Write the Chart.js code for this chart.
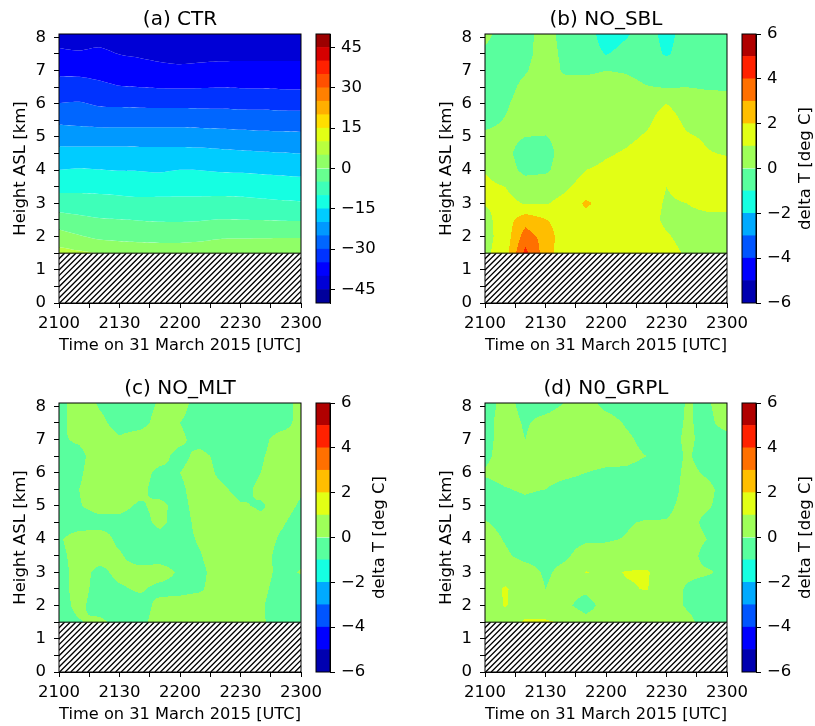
<!DOCTYPE html>
<html>
<head>
<meta charset="utf-8">
<script src="https://cdn.jsdelivr.net/npm/chart.js@4.4.1/dist/chart.umd.min.js"></script>
<style>
    html, body { margin: 0; padding: 0; background: #fff; overflow: hidden; }
    body { width: 815px; height: 726px; position: relative; }
    canvas { position: absolute; }
</style>
</head>
<body>
<script>
// ---- data ------------------------------------------------------------

// minutes after 2100 UTC
const times = [ 0, 10, 20, 30, 40, 50, 60, 70, 80, 90, 100, 110, 120 ];
const xTickValues = [ 0, 15, 30, 45, 60, 75, 90, 105, 120 ];
const xTickLabels = { 0: '2100', 30: '2130', 60: '2200', 90: '2230', 120: '2300' };
const yTickValues = [ 0, 0.5, 1, 1.5, 2, 2.5, 3, 3.5, 4, 4.5, 5, 5.5, 6, 6.5, 7, 7.5, 8 ];
const surfaceHeight = 1.5;
const topHeight = 8.1;

// (a) CTR : height [km] of each isotherm over time
const isoM40 = [ 7.68, 7.60, 7.70, 7.48, 7.38, 7.26, 7.19, 7.24, 7.28, 7.29, 7.29, 7.29, 7.29 ];
const isoM35 = [ 6.83, 6.81, 6.70, 6.54, 6.50, 6.47, 6.46, 6.47, 6.49, 6.47, 6.46, 6.44, 6.43 ];
const isoM30 = [ 6.02, 6.06, 5.92, 5.90, 5.88, 5.87, 5.87, 5.86, 5.85, 5.83, 5.82, 5.80, 5.79 ];
const isoM25 = [ 5.37, 5.33, 5.29, 5.29, 5.29, 5.29, 5.29, 5.27, 5.25, 5.22, 5.19, 5.17, 5.15 ];
const isoM20 = [ 4.72, 4.71, 4.71, 4.71, 4.70, 4.70, 4.70, 4.68, 4.64, 4.60, 4.56, 4.53, 4.50 ];
const isoM15 = [ 4.01, 4.06, 4.02, 3.98, 3.97, 3.93, 4.01, 4.00, 3.94, 3.92, 3.88, 3.84, 3.80 ];
const isoM10 = [ 3.31, 3.31, 3.28, 3.24, 3.19, 3.20, 3.21, 3.21, 3.22, 3.20, 3.15, 3.10, 3.06 ];
const isoM5  = [ 2.73, 2.65, 2.56, 2.52, 2.48, 2.45, 2.44, 2.47, 2.52, 2.51, 2.50, 2.48, 2.47 ];
const iso0   = [ 2.21, 2.05, 1.91, 1.86, 1.83, 1.81, 1.81, 1.85, 1.93, 1.94, 1.95, 1.96, 1.96 ];
const iso5   = [ 1.69, 1.58, 1.50, 1.50, 1.50, 1.50, 1.50, 1.50, 1.50, 1.50, 1.50, 1.50, 1.50 ];
const ctrLevels = [ -50, -45, -40, -35, -30, -25, -20, -15, -10, -5, 0, 5, 10, 15, 20, 25, 30, 35, 40, 45, 50 ];
const ctrTicks = [ -45, -30, -15, 0, 15, 30, 45 ];

// (b)-(d) : temperature difference [deg C], rows from top (8.1 km) down to the surface
const rowHeights = [ 8.1, 7.5, 7.0, 6.5, 6.0, 5.5, 5.0, 4.5, 4.0, 3.5, 3.0, 2.5, 2.0, 1.5 ];
const dtLevels = [ -6, -5, -4, -3, -2, -1, 0, 1, 2, 3, 4, 5, 6 ];
const dtTicks = [ -6, -4, -2, 0, 2, 4, 6 ];

const noSbl = [
    [ 0.3, -0.5, -0.3, 0.4, -0.4, -0.5, -1.5, -1.1, -0.6, -1.3, -0.6, -0.5, -0.5 ],
    [ -0.2, -0.6, -0.3, 0.5, -0.3, -0.5, -1.05, -0.7, -0.6, -1.1, -0.6, -0.5, -0.5 ],
    [ -0.5, -0.5, -0.1, 0.6, -0.2, -0.2, 0.0, -0.1, -0.4, -0.4, -0.4, -0.3, -0.3 ],
    [ -0.5, -0.4, 0.3, 0.7, 0.5, 0.5, 0.5, 0.4, 0.05, -0.05, 0.0, -0.1, -0.15 ],
    [ -0.3, -0.15, 0.5, 0.6, 0.6, 0.6, 0.6, 0.6, 0.7, 1.0, 0.6, 0.5, 0.5 ],
    [ -0.3, 0.05, 0.5, 0.5, 0.5, 0.5, 0.5, 0.6, 0.8, 1.4, 0.8, 0.6, 0.5 ],
    [ 0.2, 0.3, 0.0, -0.05, 0.4, 0.5, 0.6, 0.8, 1.1, 1.5, 1.1, 0.9, 0.7 ],
    [ 0.4, 0.3, -0.5, -0.4, 0.5, 0.6, 0.9, 1.1, 1.4, 1.5, 1.4, 1.05, 0.95 ],
    [ 0.95, 0.5, -0.3, -0.2, 0.6, 1.0, 1.2, 1.3, 1.4, 1.4, 1.4, 1.3, 1.3 ],
    [ 1.2, 1.0, 0.6, 0.7, 0.9, 1.3, 1.5, 1.5, 1.5, 1.0, 1.3, 1.5, 2.02 ],
    [ 1.05, 1.2, 0.95, 0.95, 1.2, 2.2, 1.5, 1.5, 1.4, 0.9, 1.0, 1.3, 1.3 ],
    [ 0.7, 1.5, 2.6, 2.05, 1.5, 1.5, 1.5, 1.5, 1.4, 0.8, 0.7, 0.7, 0.7 ],
    [ 0.7, 1.4, 3.5, 2.6, 1.3, 1.5, 1.5, 1.5, 1.5, 1.1, 0.7, 0.7, 0.7 ],
    [ 0.8, 1.5, 4.3, 2.5, 1.3, 1.5, 1.5, 1.5, 1.5, 1.3, 0.9, 0.7, 0.7 ]
];

const noMlt = [
    [ -0.3, 0.5, -0.1, -0.4, -0.4, 0.1, 0.4, -0.5, -0.6, -0.6, -0.5, -0.5, 0.3 ],
    [ -0.3, 0.5, 0.2, -0.3, -0.3, 0.3, 0.0, -0.5, -0.6, -0.6, -0.5, -0.4, 0.3 ],
    [ -0.1, 0.1, 0.4, 0.1, 0.4, 0.5, 0.2, -0.4, -0.6, -0.5, -0.3, 0.4, 0.2 ],
    [ -0.2, -0.2, 0.4, 0.4, 0.4, 0.3, -0.3, 0.3, -0.3, -0.5, -0.1, 0.4, 0.2 ],
    [ -0.4, -0.1, 0.4, 0.3, 0.3, -0.2, 0.0, 0.5, -0.2, -0.5, 0.0, 0.4, 0.2 ],
    [ -0.4, 0.0, 0.4, 0.3, 0.2, -0.3, -0.2, 0.5, 0.2, -0.3, 0.2, 0.4, 0.1 ],
    [ -0.4, -0.05, 0.3, 0.2, -0.1, 0.2, -0.3, 0.4, 0.5, 0.1, -0.1, 0.3, -0.1 ],
    [ -0.4, -0.4, -0.3, -0.2, -0.3, 0.2, -0.4, 0.3, 0.5, 0.5, 0.2, 0.1, -0.3 ],
    [ -0.1, 0.4, 0.4, -0.2, -0.4, -0.3, -0.3, 0.1, 0.5, 0.5, 0.4, -0.1, -0.3 ],
    [ -0.2, 0.3, 0.3, 0.1, -0.4, -0.3, -0.3, -0.05, 0.5, 0.5, 0.4, -0.3, -0.2 ],
    [ -0.3, 0.3, -0.2, 0.2, 0.3, 0.3, -0.1, -0.2, 0.4, 0.5, 0.3, -0.2, 0.05 ],
    [ -0.3, 0.3, -0.3, -0.1, 0.1, -0.2, -0.2, -0.1, 0.4, 0.5, 0.2, -0.3, -0.3 ],
    [ -0.3, 0.2, -0.4, -0.4, -0.3, 0.2, 0.3, 0.4, 0.5, 0.5, 0.1, -0.4, -0.4 ],
    [ -0.3, -0.05, 0.2, -0.3, -0.2, 0.3, 0.4, 0.4, 0.5, 0.4, 0.1, -0.3, -0.3 ]
];

const noGrpl = [
    [ -0.4, 0.3, -0.3, -0.4, 0.05, 0.4, -0.3, -0.5, -0.5, -0.5, 0.05, -0.1, 0.4 ],
    [ -0.3, 0.4, -0.1, 0.3, 0.5, 0.5, 0.4, -0.1, -0.5, -0.5, 0.1, -0.2, 0.3 ],
    [ -0.3, 0.4, 0.0, 0.5, 0.5, 0.5, 0.5, 0.2, -0.3, -0.5, 0.2, -0.3, -0.3 ],
    [ -0.2, 0.4, 0.5, 0.5, 0.5, 0.5, 0.4, 0.3, 0.0, -0.5, 0.1, -0.3, -0.4 ],
    [ 0.1, 0.3, 0.4, 0.3, 0.2, 0.0, -0.2, -0.2, -0.4, -0.5, 0.2, -0.1, -0.4 ],
    [ -0.3, -0.05, 0.1, 0.0, -0.3, -0.4, -0.5, -0.5, -0.5, -0.5, 0.3, 0.2, -0.3 ],
    [ -0.3, -0.3, -0.2, -0.4, -0.5, -0.5, -0.5, -0.5, -0.5, -0.2, 0.3, 0.1, -0.3 ],
    [ 0.05, -0.2, -0.3, -0.4, -0.4, -0.4, -0.3, -0.1, 0.1, 0.05, 0.3, -0.2, -0.3 ],
    [ 0.3, -0.05, -0.3, -0.3, -0.2, -0.1, -0.1, 0.05, 0.4, 0.4, 0.4, 0.0, -0.3 ],
    [ 0.4, 0.1, -0.2, -0.2, -0.1, 0.3, 0.4, 0.5, 0.5, 0.5, 0.4, -0.3, 0.0 ],
    [ 0.5, 0.5, 0.3, -0.1, 0.2, 1.05, 0.8, 1.05, 1.1, 0.5, 0.2, 0.1, -0.2 ],
    [ 0.5, 1.1, 0.5, 0.0, 0.3, 0.2, 0.6, 0.9, 1.05, 0.5, -0.1, -0.4, -0.2 ],
    [ 0.5, 1.05, 0.6, 0.5, 0.2, -0.4, 0.4, 0.5, 0.5, 0.5, -0.1, -0.5, -0.4 ],
    [ 0.5, 0.6, 1.1, 1.1, 0.9, 0.4, 0.5, 0.5, 0.5, 0.5, 0.3, -0.4, -0.4 ]
];

// ---- helpers ---------------------------------------------------------

const FONT = "'DejaVu Sans', sans-serif";
Chart.defaults.font.family = FONT;
Chart.defaults.color = '#000';

// matplotlib 'jet'
function jet( t )
{
    const seg = ( pts ) =>
    {
        for ( let i = 0; i < pts.length - 1; i++ )
        {
            const [ x0, y0 ] = pts[ i ], [ x1, y1 ] = pts[ i + 1 ];
            if ( t <= x1 ) return y0 + ( y1 - y0 ) * ( t - x0 ) / ( x1 - x0 );
        }
        return pts[ pts.length - 1 ][ 1 ];
    };
    const r = seg( [ [ 0, 0 ], [ 0.35, 0 ], [ 0.66, 1 ], [ 0.89, 1 ], [ 1, 0.5 ] ] );
    const g = seg( [ [ 0, 0 ], [ 0.125, 0 ], [ 0.375, 1 ], [ 0.64, 1 ], [ 0.91, 0 ], [ 1, 0 ] ] );
    const b = seg( [ [ 0, 0.5 ], [ 0.11, 1 ], [ 0.34, 1 ], [ 0.65, 0 ], [ 1, 0 ] ] );
    return `rgb(${ Math.round( r * 255 ) },${ Math.round( g * 255 ) },${ Math.round( b * 255 ) })`;
}

function bandColors( levels )
{
    const n = levels.length - 1;
    return levels.slice( 0, -1 ).map( ( _, i ) => jet( ( i + 0.5 ) / n ) );
}

const ctrColors = bandColors( ctrLevels );
const dtColors = bandColors( dtLevels );

const fmt = ( v ) => v < 0 ? '\u2212' + Math.abs( v ) : String( v );

function addCanvas( left, top, w, h )
{
    const c = document.createElement( 'canvas' );
    c.width = w;
    c.height = h;
    c.style.left = left + 'px';
    c.style.top = top + 'px';
    document.body.appendChild( c );
    return c;
}

// filled contours of a gridded field, by bilinear interpolation
const contourf = {
    id: 'contourf',
    beforeDatasetsDraw( chart, args, opts )
    {
        if ( !opts.values ) return;
        const { ctx, chartArea: a, scales: { x, y } } = chart;
        const { values, levels, colors } = opts;
        const nT = times.length, nH = rowHeights.length;

        const cols = [];
        const px0 = Math.floor( a.left ), px1 = Math.ceil( a.right );
        for ( let px = px0; px < px1; px++ )
        {
            let t = Math.min( Math.max( x.getValueForPixel( px + 0.5 ), times[ 0 ] ), times[ nT - 1 ] );
            let i = 0;
            while ( i < nT - 2 && t > times[ i + 1 ] ) i++;
            cols.push( [ i, ( t - times[ i ] ) / ( times[ i + 1 ] - times[ i ] ) ] );
        }

        const band = ( v ) =>
        {
            let k = 0;
            while ( k < levels.length - 2 && v >= levels[ k + 1 ] ) k++;
            return k;
        };

        ctx.save();
        ctx.beginPath();
        ctx.rect( a.left, a.top, a.right - a.left, a.bottom - a.top );
        ctx.clip();
        const pyTop = Math.floor( y.getPixelForValue( rowHeights[ 0 ] ) );
        const pyBot = Math.ceil( y.getPixelForValue( rowHeights[ nH - 1 ] ) );
        for ( let py = pyTop; py < pyBot; py++ )
        {
            let h = Math.min( Math.max( y.getValueForPixel( py + 0.5 ), rowHeights[ nH - 1 ] ), rowHeights[ 0 ] );
            let j = 0;
            while ( j < nH - 2 && h < rowHeights[ j + 1 ] ) j++;
            const wj = ( rowHeights[ j ] - h ) / ( rowHeights[ j ] - rowHeights[ j + 1 ] );
            const r0 = values[ j ], r1 = values[ j + 1 ];
            let runStart = px0, runBand = -1;
            for ( let c = 0; c <= cols.length; c++ )
            {
                let k = -2;
                if ( c < cols.length )
                {
                    const [ i, wi ] = cols[ c ];
                    const top = r0[ i ] * ( 1 - wi ) + r0[ i + 1 ] * wi;
                    const bot = r1[ i ] * ( 1 - wi ) + r1[ i + 1 ] * wi;
                    k = band( top * ( 1 - wj ) + bot * wj );
                }
                if ( k !== runBand )
                {
                    if ( runBand >= 0 )
                    {
                        ctx.fillStyle = colors[ runBand ];
                        ctx.fillRect( runStart, py, px0 + c - runStart, 1 );
                    }
                    runStart = px0 + c;
                    runBand = k;
                }
            }
        }
        ctx.restore();
    }
};

// hatched block under the terrain height
const hatch = {
    id: 'hatch',
    afterDatasetsDraw( chart )
    {
        const { ctx, chartArea: a, scales: { y } } = chart;
        const top = y.getPixelForValue( surfaceHeight ), bot = y.getPixelForValue( 0 );
        const hgt = bot - top;
        ctx.save();
        ctx.beginPath();
        ctx.rect( a.left, top, a.right - a.left, hgt );
        ctx.clip();
        ctx.fillStyle = '#fff';
        ctx.fillRect( a.left, top, a.right - a.left, hgt );
        ctx.strokeStyle = '#000';
        ctx.lineWidth = 1.3;
        ctx.beginPath();
        for ( let sx = a.left - hgt; sx < a.right + 2; sx += 5.6 )
        {
            ctx.moveTo( sx, bot );
            ctx.lineTo( sx + hgt, top );
        }
        ctx.stroke();
        ctx.restore();
        ctx.save();
        ctx.strokeStyle = '#000';
        ctx.lineWidth = 1;
        ctx.beginPath();
        ctx.moveTo( a.left, top );
        ctx.lineTo( a.right, top );
        ctx.stroke();
        ctx.restore();
    }
};

const frame = {
    id: 'frame',
    afterDraw( chart )
    {
        const { ctx, chartArea: a } = chart;
        ctx.save();
        ctx.strokeStyle = '#000';
        ctx.lineWidth = 1;
        ctx.strokeRect( a.left, a.top, a.right - a.left, a.bottom - a.top );
        ctx.restore();
    }
};

// rotated label beside a colour bar
const cbLabel = {
    id: 'cbLabel',
    afterDraw( chart, args, opts )
    {
        if ( !opts.text ) return;
        const { ctx, chartArea: a } = chart;
        ctx.save();
        ctx.translate( a.right + 50, ( a.top + a.bottom ) / 2 );
        ctx.rotate( -Math.PI / 2 );
        ctx.font = `16.5px ${ FONT }`;
        ctx.fillStyle = '#000';
        ctx.textAlign = 'center';
        ctx.textBaseline = 'middle';
        ctx.fillText( opts.text, 0, 0 );
        ctx.restore();
    }
};

const tickFont = { size: 16.5 };

function panelOptions( title, field )
{
    return {
        responsive: false,
        animation: false,
        layout: { padding: { right: 30 } },
        plugins: {
            legend: { display: false },
            tooltip: { enabled: false },
            filler: { propagate: false },
            title: {
                display: true,
                fullSize: false,
                text: title,
                font: { size: 20, weight: 'normal' },
                padding: { top: 8, bottom: 2 }
            },
            contourf: field || {}
        },
        scales: {
            x: {
                type: 'linear',
                min: 0,
                max: 120,
                afterBuildTicks: ( s ) => { s.ticks = xTickValues.map( v => ( { value: v } ) ); },
                afterFit: ( s ) => { s.height = 60; },
                ticks: {
                    autoSkip: false,
                    maxRotation: 0,
                    font: tickFont,
                    padding: 6,
                    callback: ( v ) => xTickLabels[ v ] || ''
                },
                grid: { drawOnChartArea: false, tickLength: 5, color: '#000' },
                border: { color: '#000' },
                title: {
                    display: true,
                    text: 'Time on 31 March 2015 [UTC]',
                    font: { size: 16.5 },
                    padding: { top: 0, bottom: 7 }
                }
            },
            y: {
                type: 'linear',
                min: 0,
                max: topHeight,
                afterBuildTicks: ( s ) => { s.ticks = yTickValues.map( v => ( { value: v } ) ); },
                afterFit: ( s ) => { s.width = 59; },
                ticks: {
                    autoSkip: false,
                    font: tickFont,
                    padding: 8,
                    callback: ( v ) => Number.isInteger( v ) ? String( v ) : ''
                },
                grid: { drawOnChartArea: false, tickLength: 5, color: '#000' },
                border: { color: '#000' },
                title: {
                    display: true,
                    text: 'Height ASL [km]',
                    font: { size: 16.5 },
                    padding: { top: 11, bottom: 0 }
                }
            }
        }
    };
}

function colorbar( left, top, levels, colors, ticks, label )
{
    const canvas = addCanvas( left, top, 88, 363 );
    return new Chart( canvas, {
        type: 'bar',
        data: {
            labels: [ '' ],
            datasets: colors.map( ( c, i ) => ( {
                data: [ [ levels[ i ], levels[ i + 1 ] ] ],
                backgroundColor: c,
                borderWidth: 0,
                barPercentage: 1,
                categoryPercentage: 1,
                grouped: false
            } ) )
        },
        options: {
            responsive: false,
            animation: false,
            layout: { padding: { left: 4, top: 34, bottom: 60, right: 0 } },
            plugins: {
                legend: { display: false },
                tooltip: { enabled: false },
                cbLabel: { text: label }
            },
            scales: {
                x: { display: false },
                y: {
                    position: 'right',
                    min: levels[ 0 ],
                    max: levels[ levels.length - 1 ],
                    afterBuildTicks: ( s ) => { s.ticks = ticks.map( v => ( { value: v } ) ); },
                    afterFit: ( s ) => { s.width = 70; },
                    ticks: { font: tickFont, padding: 6, callback: ( v ) => fmt( v ) },
                    grid: { drawOnChartArea: false, tickLength: 5, color: '#000' },
                    border: { color: '#000' }
                }
            }
        },
        plugins: [ frame, cbLabel ]
    } );
}

// ---- (a) CTR : bands between isotherms -------------------------------

const ctrIsotherms = [
    [ -40, isoM40 ], [ -35, isoM35 ], [ -30, isoM30 ], [ -25, isoM25 ], [ -20, isoM20 ],
    [ -15, isoM15 ], [ -10, isoM10 ], [ -5, isoM5 ], [ 0, iso0 ], [ 5, iso5 ]
];

const toPoints = ( hts ) => times.map( ( t, i ) => ( { x: t, y: hts[ i ] } ) );

const ctrDatasets = ctrIsotherms.map( ( [ lev, hts ], k ) => ( {
    data: toPoints( hts ),
    fill: k === 0 ? 'end' : '-1',
    backgroundColor: ctrColors[ ctrLevels.indexOf( lev ) - 1 ],
    borderWidth: 0,
    pointRadius: 0,
    tension: 0.25
} ) );
// warmest band, below the +5 isotherm
ctrDatasets.push( {
    data: toPoints( iso5 ),
    fill: 'start',
    backgroundColor: ctrColors[ ctrLevels.indexOf( 5 ) ],
    borderWidth: 0,
    pointRadius: 0,
    tension: 0.25
} );

new Chart( addCanvas( 0, 0, 331, 363 ), {
    type: 'line',
    data: { datasets: ctrDatasets },
    options: panelOptions( '(a) CTR' ),
    plugins: [ hatch, frame ]
} );
colorbar( 312, 0, ctrLevels, ctrColors, ctrTicks, '' );

// ---- (b)-(d) : temperature differences --------------------------------

const panels = [
    [ '(b) NO_SBL', noSbl, 426, 0 ],
    [ '(c) NO_MLT', noMlt, 0, 369 ],
    [ '(d) N0_GRPL', noGrpl, 426, 369 ]
];

panels.forEach( ( [ title, values, left, top ] ) =>
{
    new Chart( addCanvas( left, top, 331, 363 ), {
        type: 'scatter',
        data: { datasets: [] },
        options: panelOptions( title, { values: values, levels: dtLevels, colors: dtColors } ),
        plugins: [ contourf, hatch, frame ]
    } );
    colorbar( left + 312, top, dtLevels, dtColors, dtTicks, 'delta T [deg C]' );
} );
</script>
</body>
</html>
